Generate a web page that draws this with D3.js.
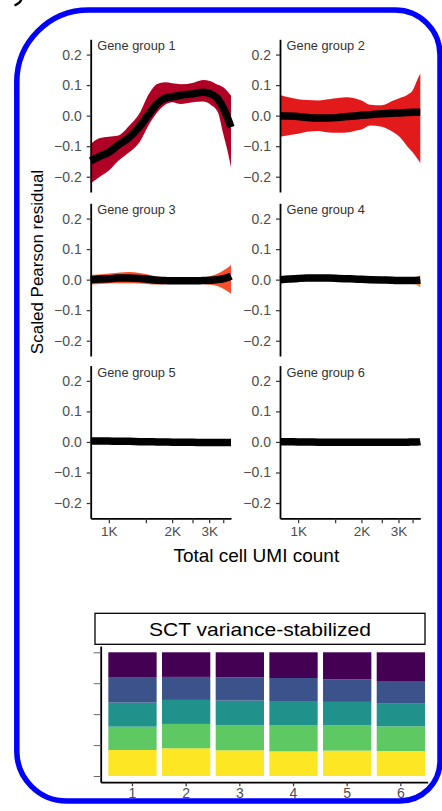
<!DOCTYPE html>
<html><head><meta charset="utf-8">
<script src="https://cdn.jsdelivr.net/npm/d3@7"></script>
<style>
body{margin:0;background:#fff;}
svg{display:block;}
text{font-family:"Liberation Sans",Arial,Helvetica,sans-serif;}
</style>
</head><body>
<svg id="chart" width="442" height="811"></svg>
<script>
// ---------- data ----------
const umiGrid = [820, 900, 1000, 1100, 1250, 1400, 1550, 1700, 1850, 2000, 2200, 2500, 2800, 3050, 3300, 3500, 3700, 3810];
const groupNames = ["Gene group 1","Gene group 2","Gene group 3","Gene group 4","Gene group 5","Gene group 6"];
const groupColors = ["#b10026","#e31a1c","#fc4e2a","#fd8d3c","#feb24c","#fed976"];

const mean1 = [-0.148,-0.134,-0.120,-0.098,-0.071,-0.036,0.005,0.040,0.057,0.062,0.067,0.071,0.077,0.071,0.055,0.025,-0.014,-0.038];
const lo1   = [-0.222,-0.202,-0.180,-0.150,-0.120,-0.087,-0.030,0.011,0.036,0.044,0.038,0.044,0.046,0.036,0.011,-0.060,-0.126,-0.169];
const hi1   = [-0.093,-0.074,-0.069,-0.066,-0.033,0.008,0.071,0.104,0.109,0.106,0.103,0.107,0.117,0.113,0.101,0.093,0.077,0.066];

const mean2 = [0.000,-0.001,-0.003,-0.006,-0.008,-0.008,-0.006,-0.003,-0.001,0.001,0.003,0.006,0.008,0.009,0.010,0.011,0.011,0.011];
const lo2   = [-0.069,-0.064,-0.059,-0.053,-0.050,-0.055,-0.056,-0.055,-0.050,-0.045,-0.032,-0.036,-0.052,-0.071,-0.100,-0.120,-0.142,-0.155];
const hi2   = [0.068,0.060,0.054,0.051,0.050,0.054,0.058,0.060,0.057,0.050,0.036,0.034,0.048,0.058,0.068,0.082,0.120,0.138];

const mean3 = [0.000,0.002,0.003,0.005,0.005,0.004,0.001,-0.002,-0.003,-0.004,-0.004,-0.004,-0.003,-0.002,0.000,0.003,0.008,0.012];
const lo3   = [-0.016,-0.014,-0.013,-0.012,-0.012,-0.013,-0.015,-0.016,-0.015,-0.013,-0.012,-0.012,-0.014,-0.017,-0.022,-0.030,-0.040,-0.047];
const hi3   = [0.015,0.017,0.020,0.023,0.025,0.022,0.016,0.010,0.007,0.005,0.005,0.005,0.007,0.012,0.020,0.030,0.041,0.048];

const mean4 = [0.000,0.002,0.004,0.005,0.005,0.005,0.004,0.003,0.002,0.001,0.000,-0.001,-0.002,-0.003,-0.003,-0.003,-0.002,-0.001];
const lo4   = [-0.004,-0.002,0.000,0.001,0.001,0.001,0.000,-0.001,-0.002,-0.003,-0.004,-0.005,-0.006,-0.008,-0.010,-0.013,-0.019,-0.026];
const hi4   = [0.004,0.006,0.008,0.009,0.009,0.009,0.008,0.007,0.006,0.005,0.004,0.003,0.002,0.001,0.002,0.004,0.009,0.014];

const mean5 = [0.003,0.003,0.003,0.002,0.002,0.001,0.001,0.000,0.000,-0.001,-0.001,-0.001,-0.002,-0.002,-0.002,-0.002,-0.002,-0.002];
const lo5   = [0.000,0.000,0.000,-0.001,-0.001,-0.002,-0.002,-0.003,-0.003,-0.004,-0.004,-0.004,-0.005,-0.005,-0.005,-0.006,-0.007,-0.008];
const hi5   = [0.006,0.006,0.006,0.005,0.005,0.004,0.004,0.003,0.003,0.002,0.002,0.002,0.001,0.001,0.001,0.001,0.002,0.003];

const mean6 = [0.001,0.001,0.000,0.000,-0.001,-0.001,-0.001,-0.001,-0.001,-0.001,-0.001,-0.001,-0.001,-0.001,-0.001,0.000,0.000,0.001];
const lo6   = [-0.001,-0.001,-0.002,-0.002,-0.003,-0.003,-0.003,-0.003,-0.003,-0.003,-0.003,-0.003,-0.003,-0.003,-0.003,-0.002,-0.002,-0.001];
const hi6   = [0.003,0.003,0.002,0.002,0.001,0.001,0.001,0.001,0.001,0.001,0.001,0.001,0.001,0.001,0.001,0.002,0.002,0.003];

const yTickValues = [-0.2,-0.1,0.0,0.1,0.2];
const xTickValues = [1000,1500,2000,2500,3000,3500];
const xTickLabels = {1000:"1K",2000:"2K",3000:"3K"};

const barCategories = ["1","2","3","4","5","6"];
const segYellow = [0.210,0.224,0.208,0.199,0.205,0.202];
const segGreen  = [0.189,0.197,0.205,0.213,0.205,0.199];
const segTeal   = [0.194,0.194,0.197,0.194,0.189,0.183];
const segBlue   = [0.202,0.186,0.189,0.186,0.183,0.183];
const segPurple = [0.205,0.199,0.202,0.208,0.218,0.232];
const segColors = ["#fde725","#5ec962","#21918c","#3b528b","#440154"];
const barYTicks = [0,0.25,0.5,0.75,1];

// ---------- build ----------
const svg = d3.select("#chart");
const groups = [
  {mean:mean1, lo:lo1, hi:hi1},{mean:mean2, lo:lo2, hi:hi2},
  {mean:mean3, lo:lo3, hi:hi3},{mean:mean4, lo:lo4, hi:hi4},
  {mean:mean5, lo:lo5, hi:hi5},{mean:mean6, lo:lo6, hi:hi6}
];

// outer blue frame
(function(){
  const L=16.8,R=440,T=10,B=801;
  const p = `M${L+72},${T} H${R-45} A45,45 0 0 1 ${R},${T+45} V${B-40} A40,40 0 0 1 ${R-40},${B} H${L+50} A50,50 0 0 1 ${L},${B-50} V${T+72} A72,72 0 0 1 ${L+72},${T} Z`;
  svg.append("path").attr("d",p).attr("fill","none").attr("stroke","#0000ff").attr("stroke-width",5.5);
  // fragment of a panel letter cut off by the top edge
  svg.append("path").attr("d","M21.5,-1 Q20.5,3 14.5,5.5").attr("fill","none").attr("stroke","#000").attr("stroke-width",2.2);
})();

const colX = [90.7, 280];
const rowTop = [39.3, 203.3, 365.6];
const panelW = 140.3, panelH = 152.7;

const x = d3.scaleLog().domain([820, 3810]).range([0, panelW]);
const y = d3.scaleLinear().domain([-0.25, 0.25]).range([panelH, 0]);

const area = d3.area().x((d)=>x(d.u)).y0(d=>y(d.lo)).y1(d=>y(d.hi)).curve(d3.curveMonotoneX);
const line = d3.line().x(d=>x(d.u)).y(d=>y(d.m)).curve(d3.curveMonotoneX);

groups.forEach((g,i)=>{
  const col = i%2, row = Math.floor(i/2);
  const gp = svg.append("g").attr("transform",`translate(${colX[col]},${rowTop[row]})`);
  const pts = umiGrid.map((u,k)=>({u, m:g.mean[k], lo:g.lo[k], hi:g.hi[k]}));
  gp.append("path").datum(pts).attr("d",area).attr("fill",groupColors[i]);
  gp.append("path").datum(pts).attr("d",line).attr("fill","none").attr("stroke","#000").attr("stroke-width",7.5);

  const ya = gp.append("g").call(d3.axisLeft(y).tickValues(yTickValues).tickSize(4).tickSizeOuter(0).tickPadding(5)
      .tickFormat(d3.format(".1f")));
  ya.select(".domain").attr("stroke","#000").attr("stroke-width",1.8);
  ya.selectAll(".tick line").attr("stroke","#333").attr("stroke-width",1.2);
  ya.selectAll(".tick text").attr("fill","#4d4d4d").attr("font-size",14).attr("font-family",null);

  gp.append("text").attr("x",6.6).attr("y",11).attr("font-size",12.8).attr("fill","#333").text(groupNames[i]);

  if(row===2){
    const xa = gp.append("g").attr("transform",`translate(0,${panelH})`)
      .call(d3.axisBottom(x).tickValues(xTickValues).tickSize(5).tickSizeOuter(0).tickPadding(3)
      .tickFormat(d=>xTickLabels[d]||""));
    xa.select(".domain").attr("stroke","#000").attr("stroke-width",1.8);
    xa.selectAll(".tick line").attr("stroke","#333").attr("stroke-width",1.2);
    xa.selectAll(".tick text").attr("fill","#4d4d4d").attr("font-size",13.5).attr("font-family",null);
  }
});

svg.append("text").attr("x",256.3).attr("y",561.5).attr("text-anchor","middle")
  .attr("font-size",19).attr("fill","#000").text("Total cell UMI count");
svg.append("text").attr("transform","translate(43,262) rotate(-90)").attr("text-anchor","middle")
  .attr("font-size",17).attr("fill","#000").text("Scaled Pearson residual");

// ---------- stacked bar chart ----------
const barRows = barCategories.map((c,k)=>({cat:c, s0:segYellow[k], s1:segGreen[k], s2:segTeal[k], s3:segBlue[k], s4:segPurple[k]}));
const stack = d3.stack().keys(["s0","s1","s2","s3","s4"]).offset(d3.stackOffsetExpand);
const series = stack(barRows);

const xb = d3.scaleBand().domain(barCategories).range([100.7, 427.7]).paddingInner(0.1).paddingOuter(0.096).align(0.74);
const yb = d3.scaleLinear().domain([-0.05, 1.05]).range([782.2, 646.1]);

const bg = svg.append("g");
series.forEach((s,si)=>{
  bg.selectAll(null).data(s).enter().append("rect")
    .attr("x",d=>xb(d.data.cat)).attr("width",xb.bandwidth())
    .attr("y",d=>yb(d[1])).attr("height",d=>yb(d[0])-yb(d[1]))
    .attr("fill",segColors[si]);
});

const yba = svg.append("g").attr("transform","translate(100.7,0)")
  .call(d3.axisLeft(yb).tickValues(barYTicks).tickSize(7).tickSizeOuter(0).tickFormat(""));
yba.select(".domain").attr("stroke","#000").attr("stroke-width",1.8);
yba.selectAll(".tick line").attr("stroke","#666").attr("stroke-width",1);

const xba = svg.append("g").attr("transform","translate(0,782.2)")
  .call(d3.axisBottom(xb).tickSize(4).tickSizeOuter(0).tickPadding(1.5));
xba.select(".domain").attr("stroke","#000").attr("stroke-width",1.8);
xba.selectAll(".tick line").attr("stroke","#333").attr("stroke-width",1.2);
xba.selectAll(".tick text").attr("fill","#4d4d4d").attr("font-size",14).attr("font-family",null);

svg.append("rect").attr("x",95).attr("y",613.3).attr("width",330).attr("height",31)
  .attr("fill","#fff").attr("stroke","#000").attr("stroke-width",1.3);
svg.append("text").attr("x",260).attr("y",636.3).attr("text-anchor","middle")
  .attr("font-size",18.5).attr("textLength",222).attr("lengthAdjust","spacingAndGlyphs")
  .attr("fill","#000").text("SCT variance-stabilized");
</script>
</body></html>
